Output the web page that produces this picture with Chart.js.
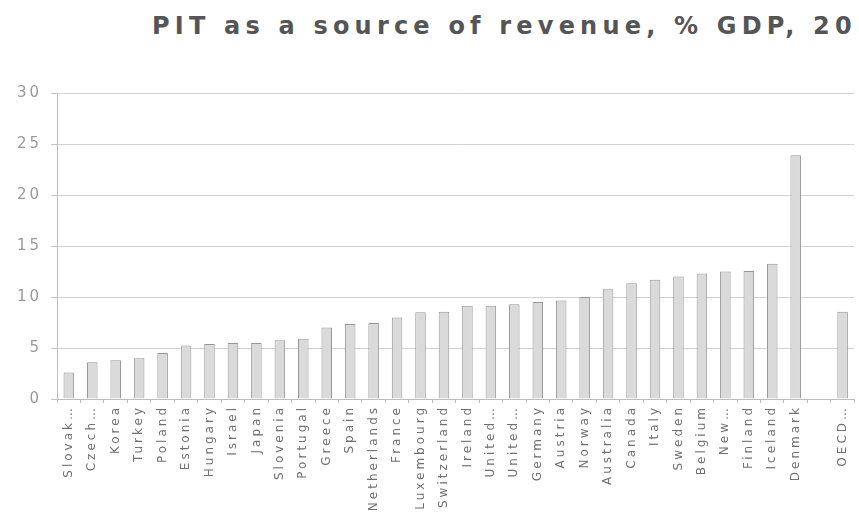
<!DOCTYPE html>
<html>
<head>
<meta charset="utf-8">
<script src="https://cdn.jsdelivr.net/npm/chart.js@4/dist/chart.umd.min.js"></script>
<style>
  html, body { margin: 0; padding: 0; background: #fff; overflow: hidden; }
  #wrap { position: relative; width: 859px; height: 517px; overflow: hidden; }
  #title {
    position: absolute; left: 152px; top: 12px; white-space: nowrap;
    font: bold 24px "DejaVu Sans", sans-serif; letter-spacing: 5.2px; color: #555;
  }
  canvas { position: absolute; left: 0; top: 0; }
</style>
</head>
<body>
<div id="wrap">
  <div id="title">PIT as a source of revenue, % GDP, 2012</div>
  <canvas id="pitChart" width="859" height="517"></canvas>
</div>
<script>
const countries = [
  'Slovak…', 'Czech…', 'Korea', 'Turkey', 'Poland', 'Estonia', 'Hungary',
  'Israel', 'Japan', 'Slovenia', 'Portugal', 'Greece', 'Spain', 'Netherlands',
  'France', 'Luxembourg', 'Switzerland', 'Ireland', 'United…', 'United…',
  'Germany', 'Austria', 'Norway', 'Australia', 'Canada', 'Italy', 'Sweden',
  'Belgium', 'New…', 'Finland', 'Iceland', 'Denmark', '', 'OECD…'
];
const pitShare = [
  2.6, 3.6, 3.8, 4.0, 4.5, 5.25, 5.4,
  5.5, 5.5, 5.75, 5.9, 7.0, 7.35, 7.45,
  8.0, 8.5, 8.55, 9.15, 9.15, 9.3,
  9.5, 9.65, 10.0, 10.75, 11.35, 11.7, 12.0,
  12.3, 12.5, 12.55, 13.25, 23.9, null, 8.55
];
const yTicks = [0, 5, 10, 15, 20, 25, 30];

// wide tracking on all canvas text
const spacing = {
  id: 'spacing',
  beforeLayout(chart) { chart.ctx.letterSpacing = '3px'; },
  beforeDraw(chart) { chart.ctx.letterSpacing = '3px'; }
};

const ctx = document.getElementById('pitChart').getContext('2d');
new Chart(ctx, {
  type: 'bar',
  data: {
    labels: countries,
    datasets: [{
      data: pitShare,
      backgroundColor: '#dadada',
      borderColor: '#969696',
      borderWidth: 1,
      barPercentage: 0.45,
      categoryPercentage: 1
    }]
  },
  options: {
    responsive: false,
    animation: false,
    layout: { padding: { top: 93, left: 8, right: 1, bottom: 0 } },
    plugins: { legend: { display: false }, tooltip: { enabled: false } },
    scales: {
      x: {
        afterFit(scale) { scale.height = 118; },
        border: { display: true, color: '#bdbdbd' },
        grid: {
          offset: true,
          drawOnChartArea: true,
          color: c => (c.index === 0 || c.index === countries.length) ? '#c4c4c4' : 'rgba(0,0,0,0)',
          tickColor: '#bdbdbd',
          tickLength: 4
        },
        ticks: {
          autoSkip: false,
          minRotation: 90,
          maxRotation: 90,
          padding: 2,
          color: '#707070',
          font: { family: 'DejaVu Sans', size: 12 }
        }
      },
      y: {
        min: 0,
        max: 30,
        afterBuildTicks(scale) { scale.ticks = yTicks.map(v => ({ value: v })); },
        border: { display: true, color: '#bdbdbd' },
        grid: { color: '#d2d2d2', tickColor: '#c4c4c4', tickLength: 6 },
        ticks: {
          padding: 9,
          color: '#9a9a9a',
          font: { family: 'DejaVu Sans', size: 15 }
        }
      }
    }
  },
  plugins: [spacing]
});
</script>
</body>
</html>
